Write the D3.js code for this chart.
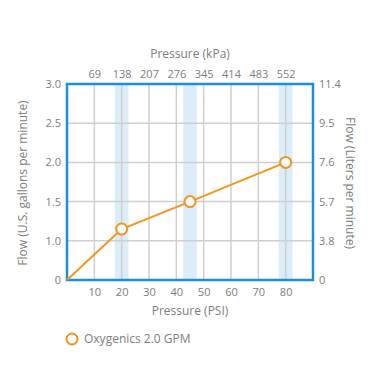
<!DOCTYPE html>
<html>
<head>
<meta charset="utf-8">
<script src="https://cdn.jsdelivr.net/npm/d3@7"></script>
<style>
body { margin:0; background:#fff; }
text { font-family: "Open Sans", sans-serif; fill:#7d7d7d; }
</style>
</head>
<body>
<div id="chart"></div>
<script>
// chart data
var psiTicks = [10, 20, 30, 40, 50, 60, 70, 80];
var kpaLabels = ["69", "138", "207", "276", "345", "414", "483", "552"];
var gpmTicks = [0, 1.0, 1.5, 2.0, 2.5, 3.0];
var gpmLabels = ["0", "1.0", "1.5", "2.0", "2.5", "3.0"];
var lpmLabels = ["0", "3.8", "5.7", "7.6", "9.5", "11.4"];
var bandCenters = [20, 45, 80];
var seriesName = "Oxygenics 2.0 GPM";
var psi = [0, 20, 45, 80];
var flow = [0, 1.15, 1.5, 2.0];

var width = 370, height = 386,
	margin = { top:84, left:67, bottom:106, right:57 };

var svg = d3.select("#chart").append("svg")
	.attr("width", width)
	.attr("height", height);

var x = d3.scaleLinear()
	.domain([0, 90])
	.range([margin.left, width - margin.right]);

// tick spacing on the flow axis is even, not linear
var y = d3.scaleLinear()
	.domain(gpmTicks)
	.range(gpmTicks.map(function(d, i){ return height - margin.bottom - i * (height - margin.top - margin.bottom) / 5; }));

// highlight bands
svg.append("g").selectAll("rect")
	.data(bandCenters)
	.enter().append("rect")
	.attr("x", function(d){ return x(d - 2.5); })
	.attr("width", function(d){ return x(d + 2.5) - x(d - 2.5); })
	.attr("y", y(3))
	.attr("height", y(0) - y(3))
	.attr("fill", "#dcedfa");

// grid
svg.append("g").selectAll("line")
	.data(psiTicks)
	.enter().append("line")
	.attr("x1", function(d){ return x(d); })
	.attr("x2", function(d){ return x(d); })
	.attr("y1", y(3)).attr("y2", y(0))
	.attr("stroke", "#cfcfcf").attr("stroke-width", 1.5);

svg.append("g").selectAll("line")
	.data(gpmTicks.slice(1, 5))
	.enter().append("line")
	.attr("x1", x(0)).attr("x2", x(90))
	.attr("y1", function(d){ return y(d); })
	.attr("y2", function(d){ return y(d); })
	.attr("stroke", "#cfcfcf").attr("stroke-width", 1.5);

// axes (labels only)
var fs = "11px";
var bottomAxis = svg.append("g")
	.attr("transform", "translate(0," + y(0) + ")")
	.call(d3.axisBottom(x).tickValues(psiTicks).tickSize(0).tickPadding(8));
var topAxis = svg.append("g")
	.attr("transform", "translate(0," + y(3) + ")")
	.call(d3.axisTop(x).tickValues(psiTicks).tickSize(0).tickPadding(6)
		.tickFormat(function(d, i){ return kpaLabels[i]; }));
var leftAxis = svg.append("g")
	.attr("transform", "translate(" + x(0) + ",0)")
	.call(d3.axisLeft(y).tickValues(gpmTicks).tickSize(0).tickPadding(6)
		.tickFormat(function(d, i){ return gpmLabels[i]; }));
var rightAxis = svg.append("g")
	.attr("transform", "translate(" + x(90) + ",0)")
	.call(d3.axisRight(y).tickValues(gpmTicks).tickSize(0).tickPadding(6)
		.tickFormat(function(d, i){ return lpmLabels[i]; }));

[bottomAxis, topAxis, leftAxis, rightAxis].forEach(function(a){
	a.select(".domain").remove();
	a.selectAll("text").attr("fill", "#7d7d7d").style("font-family", "'Open Sans', sans-serif").style("font-size", fs);
});

// frame
svg.append("rect")
	.attr("x", x(0)).attr("y", y(3))
	.attr("width", x(90) - x(0))
	.attr("height", y(0) - y(3))
	.attr("fill", "none")
	.attr("stroke", "#1b8fdd")
	.attr("stroke-width", 2.5);

// axis titles
svg.append("text")
	.attr("x", (x(0) + x(90)) / 2).attr("y", 58)
	.attr("text-anchor", "middle").style("font-size", "12px")
	.text("Pressure (kPa)");
svg.append("text")
	.attr("x", (x(0) + x(90)) / 2).attr("y", 315)
	.attr("text-anchor", "middle").style("font-size", "12px")
	.text("Pressure (PSI)");
svg.append("text")
	.attr("transform", "translate(27,183) rotate(-90)")
	.attr("text-anchor", "middle").style("font-size", "12px")
	.text("Flow (U.S. gallons per minute)");
svg.append("text")
	.attr("transform", "translate(346,183) rotate(90)")
	.attr("text-anchor", "middle").style("font-size", "12px")
	.text("Flow (Liters per minute)");

// series
var pts = psi.map(function(d, i){ return { x: d, y: flow[i] }; });
var line = d3.line()
	.x(function(d){ return x(d.x); })
	.y(function(d){ return y(d.y); });

svg.append("path")
	.datum(pts)
	.attr("d", line)
	.attr("fill", "none")
	.attr("stroke", "#f7941d")
	.attr("stroke-width", 2);

svg.append("g").selectAll("circle")
	.data(pts.slice(1))
	.enter().append("circle")
	.attr("cx", function(d){ return x(d.x); })
	.attr("cy", function(d){ return y(d.y); })
	.attr("r", 5.5)
	.attr("fill", "#fff")
	.attr("stroke", "#f7941d")
	.attr("stroke-width", 2);

// legend
svg.append("circle")
	.attr("cx", 72).attr("cy", 339).attr("r", 5.5)
	.attr("fill", "#fff").attr("stroke", "#f7941d").attr("stroke-width", 2);
svg.append("text")
	.attr("x", 84).attr("y", 343)
	.style("font-size", "12px")
	.text(seriesName);
</script>
</body>
</html>
